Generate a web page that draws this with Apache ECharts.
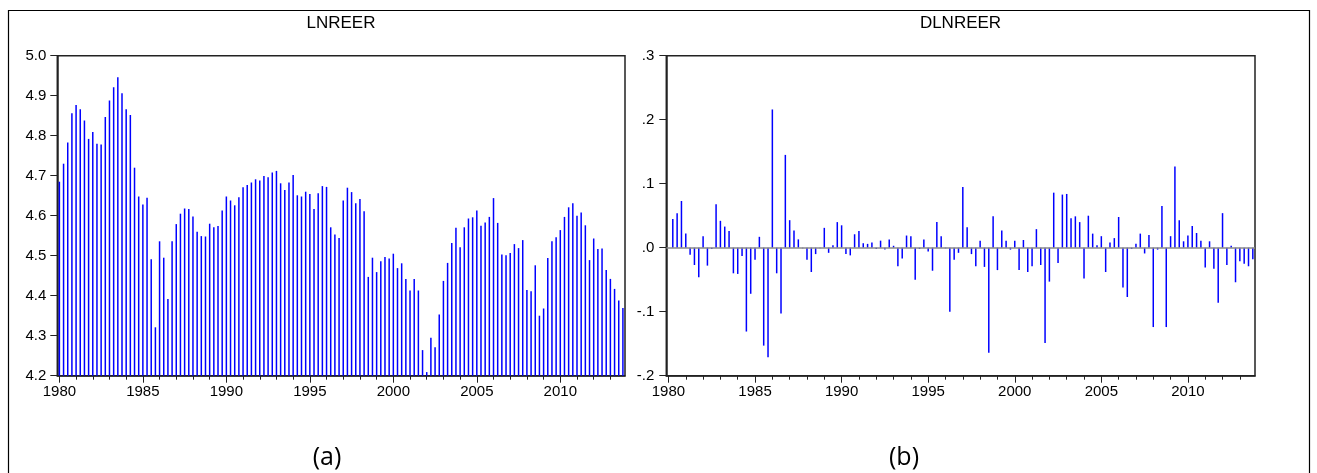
<!DOCTYPE html>
<html>
<head>
<meta charset="utf-8">
<script src="https://cdn.jsdelivr.net/npm/echarts@6/dist/echarts.min.js"></script>
<style>
html,body{margin:0;padding:0;background:#fff;}
#c{width:1317px;height:473px;}
</style>
</head>
<body>
<div id="c"></div>
<script>
// ---- data ----
var START_YEAR = 1980;
var END_YEAR = 2013;
var quarters = [];
for (var y = START_YEAR; y <= END_YEAR; y++) {
  for (var q = 1; q <= 4; q++) quarters.push(y + 'Q' + q);
}
var yearLabels = ['1980', '1985', '1990', '1995', '2000', '2005', '2010'];

var lnreer = [
  4.685, 4.730, 4.783, 4.856,
  4.877, 4.866, 4.838, 4.792,
  4.809, 4.780, 4.778, 4.847,
  4.888, 4.921, 4.946, 4.906,
  4.866, 4.852, 4.720, 4.648,
  4.628, 4.645, 4.491, 4.321,
  4.536, 4.495, 4.392, 4.536,
  4.579, 4.605, 4.618, 4.617,
  4.598, 4.560, 4.549, 4.548,
  4.580, 4.571, 4.574, 4.613,
  4.648, 4.638, 4.626, 4.646,
  4.671, 4.677, 4.683, 4.691,
  4.688, 4.699, 4.696, 4.708,
  4.712, 4.681, 4.664, 4.683,
  4.702, 4.651, 4.648, 4.660,
  4.654, 4.617, 4.656, 4.674,
  4.672, 4.571, 4.553, 4.544,
  4.638, 4.670, 4.659, 4.631,
  4.642, 4.611, 4.447, 4.495,
  4.459, 4.486, 4.497, 4.493,
  4.505, 4.469, 4.481, 4.442,
  4.413, 4.442, 4.413, 4.264,
  4.209, 4.295, 4.271, 4.353,
  4.437, 4.482, 4.532, 4.570,
  4.521, 4.571, 4.593, 4.596,
  4.613, 4.575, 4.583, 4.597,
  4.644, 4.582, 4.503, 4.501,
  4.507, 4.529, 4.519, 4.539,
  4.414, 4.411, 4.476, 4.350,
  4.368, 4.494, 4.536, 4.546,
  4.564, 4.597, 4.621, 4.631,
  4.600, 4.608, 4.576, 4.489,
  4.543, 4.517, 4.518, 4.464,
  4.442, 4.417, 4.388, 4.369
];

var dlnreer = [
  null, 0.045, 0.054, 0.073,
  0.022, -0.011, -0.027, -0.046,
  0.018, -0.028, -0.002, 0.068,
  0.042, 0.033, 0.026, -0.040,
  -0.041, -0.013, -0.131, -0.072,
  -0.019, 0.017, -0.153, -0.171,
  0.216, -0.040, -0.103, 0.145,
  0.043, 0.027, 0.013, -0.001,
  -0.019, -0.038, -0.010, -0.001,
  0.031, -0.008, 0.004, 0.040,
  0.035, -0.010, -0.012, 0.021,
  0.026, 0.007, 0.006, 0.008,
  -0.002, 0.011, -0.003, 0.013,
  0.003, -0.029, -0.017, 0.019,
  0.018, -0.050, -0.002, 0.013,
  -0.006, -0.036, 0.040, 0.018,
  -0.001, -0.100, -0.019, -0.008,
  0.095, 0.032, -0.010, -0.029,
  0.011, -0.030, -0.164, 0.049,
  -0.035, 0.027, 0.011, -0.003,
  0.011, -0.035, 0.012, -0.038,
  -0.029, 0.029, -0.027, -0.149,
  -0.053, 0.086, -0.024, 0.083,
  0.084, 0.046, 0.049, 0.040,
  -0.048, 0.050, 0.022, 0.004,
  0.018, -0.038, 0.008, 0.015,
  0.048, -0.062, -0.077, -0.002,
  0.006, 0.022, -0.009, 0.020,
  -0.124, -0.003, 0.065, -0.124,
  0.018, 0.127, 0.043, 0.010,
  0.019, 0.034, 0.023, 0.011,
  -0.031, 0.010, -0.033, -0.086,
  0.054, -0.027, 0.003, -0.054,
  -0.021, -0.025, -0.029, -0.018
];

// ---- chart ----
var FONT = '"Liberation Sans", Arial, sans-serif';
var AXIS_COLOR = '#222';
var BAR_COLOR = '#0000ff';
var LABEL_SIZE = 15;

function yearTick(i) { return i % 4 === 0; }
function fiveYearTick(i) { return i % 20 === 0; }
function labelFmt(v) {
  var yr = v.slice(0, 4);
  return yearLabels.indexOf(yr) >= 0 ? yr : '';
}
function dotFmt(v) {
  var s = (Math.round(v * 10) / 10).toFixed(1);
  return s.replace('0.', '.');
}

function mainX(grid) {
  return {
    type: 'category', gridIndex: grid, position: 'bottom', data: quarters, boundaryGap: true,
    axisLine: { show: true, onZero: false, lineStyle: { color: AXIS_COLOR, width: 1.5 } },
    axisTick: { show: true, interval: yearTick, alignWithLabel: true, length: 4, lineStyle: { color: AXIS_COLOR, width: 1 } },
    axisLabel: { show: true, interval: fiveYearTick, formatter: labelFmt, color: '#000', fontFamily: FONT, fontSize: LABEL_SIZE, margin: 9 },
    splitLine: { show: false }
  };
}
function majorX(grid) {
  return {
    type: 'category', gridIndex: grid, position: 'bottom', data: quarters, boundaryGap: true,
    axisLine: { show: false, onZero: false },
    axisTick: { show: true, interval: fiveYearTick, alignWithLabel: true, length: 7, lineStyle: { color: AXIS_COLOR, width: 1 } },
    axisLabel: { show: false },
    splitLine: { show: false }
  };
}

var option = {
  animation: false,
  backgroundColor: '#fff',
  grid: [
    { left: 57.3, top: 55.7, width: 567.7, height: 320, show: true, borderColor: AXIS_COLOR, borderWidth: 1.5, backgroundColor: 'transparent' },
    { left: 666.3, top: 55.7, width: 588.7, height: 320, show: true, borderColor: AXIS_COLOR, borderWidth: 1.5, backgroundColor: 'transparent' }
  ],
  xAxis: [mainX(0), majorX(0), mainX(1), majorX(1)],
  yAxis: [
    {
      type: 'value', gridIndex: 0, min: 4.2, max: 5.0, interval: 0.1,
      axisLine: { show: true, lineStyle: { color: AXIS_COLOR, width: 1.5 } },
      axisTick: { show: true, length: 7, lineStyle: { color: AXIS_COLOR } },
      axisLabel: { formatter: function (v) { return v.toFixed(1); }, color: '#000', fontFamily: FONT, fontSize: LABEL_SIZE, margin: 11 },
      splitLine: { show: false }
    },
    {
      type: 'value', gridIndex: 1, min: -0.2, max: 0.3, interval: 0.1,
      axisLine: { show: true, onZero: false, lineStyle: { color: AXIS_COLOR, width: 1.5 } },
      axisTick: { show: true, length: 7, lineStyle: { color: AXIS_COLOR } },
      axisLabel: { formatter: dotFmt, color: '#000', fontFamily: FONT, fontSize: LABEL_SIZE, margin: 12 },
      splitLine: { show: false }
    }
  ],
  series: [
    {
      type: 'bar', xAxisIndex: 0, yAxisIndex: 0, data: lnreer,
      barWidth: 1.5, itemStyle: { color: BAR_COLOR }, clip: true, silent: true
    },
    {
      type: 'bar', xAxisIndex: 2, yAxisIndex: 1, data: dlnreer,
      barWidth: 1.5, itemStyle: { color: BAR_COLOR }, clip: true, silent: true,
      markLine: {
        silent: true, symbol: ['none', 'none'], label: { show: false },
        lineStyle: { color: '#8a8a8a', width: 1.5, type: 'solid' },
        data: [{ yAxis: 0 }]
      }
    }
  ],
  graphic: [
    { type: 'rect', shape: { x: 8.5, y: 10.5, width: 1301, height: 500 }, style: { fill: 'none', stroke: '#000', lineWidth: 1.2 }, silent: true },
    { type: 'text', x: 341, y: 23, style: { text: 'LNREER', fill: '#000', font: '17px ' + FONT, align: 'center', verticalAlign: 'middle' } },
    { type: 'text', x: 960.5, y: 23, style: { text: 'DLNREER', fill: '#000', font: '17px ' + FONT, align: 'center', verticalAlign: 'middle' } },
    { type: 'text', x: 327, y: 458, style: { text: '(a)', fill: '#000', font: '25px "Open Sans", sans-serif', align: 'center', verticalAlign: 'middle' } },
    { type: 'text', x: 904, y: 458, style: { text: '(b)', fill: '#000', font: '25px "Open Sans", sans-serif', align: 'center', verticalAlign: 'middle' } }
  ]
};

var chart = echarts.init(document.getElementById('c'), null, { renderer: 'canvas' });
chart.setOption(option);
</script>
</body>
</html>
